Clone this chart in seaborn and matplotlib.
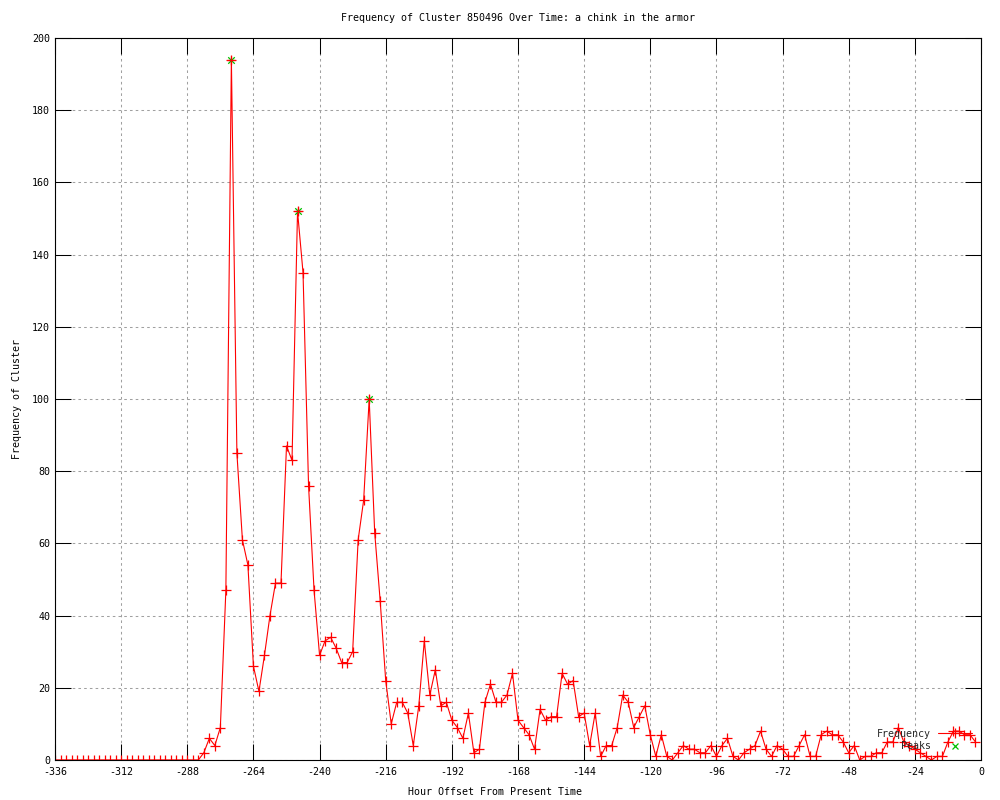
import numpy as np
import pandas as pd
import matplotlib
matplotlib.use("Agg")
import matplotlib.pyplot as plt
import seaborn as sns
from matplotlib.lines import Line2D

# ---- data ----
hours = list(range(-336, 0, 2))  # -336 ... -2
frequency = [0] * 27 + [
    2, 6, 4, 9, 47, 194, 85, 61, 54, 26, 19, 29, 40, 49, 49, 87, 83, 152, 135, 76,
    47, 29, 33, 34, 31, 27, 27, 30, 61, 72, 100, 63, 44, 22, 10, 16,
    16, 13, 4, 15, 33, 18, 25, 15, 16, 11, 9, 6, 13, 2, 3, 16, 21, 16, 16, 18,
    24, 11, 9, 7, 3, 14, 11, 12, 12, 24, 21, 22, 12, 13, 4, 13, 1, 4, 4, 9,
    18, 16, 9, 12, 15, 7, 1, 7, 1, 0, 2, 4, 3, 3, 2, 2, 4, 1, 4, 6,
    1, 0, 2, 3, 4, 8, 3, 1, 4, 3, 1, 1, 4, 7, 1, 1, 7, 8, 7, 7,
    5, 2, 4, 0, 1, 1, 2, 2, 5, 5, 9, 5, 4, 3, 2, 1, 0, 1, 1, 5,
    8, 8, 7, 7, 5,
]
peak_hours = [-272, -248, -222]
peak_values = [194, 152, 100]

x_ticks = list(range(-336, 1, 24))
y_ticks = list(range(0, 201, 20))

title = "Frequency of Cluster 850496 Over Time: a chink in the armor"
xlabel = "Hour Offset From Present Time"
ylabel = "Frequency of Cluster"

df = pd.DataFrame({"hour": hours, "freq": frequency})
pk = pd.DataFrame({"hour": peak_hours, "freq": peak_values})

# ---- style ----
sns.set_theme(style="white")
plt.rcParams["font.family"] = ["DejaVu Sans Mono"]
fs = 7.2
RED = "#ff0000"
GREEN = "#00c000"

fig = plt.figure(figsize=(10, 8), dpi=100)
ax = fig.add_axes([0.055, 0.05, 0.926, 0.9025])

sns.lineplot(data=df, x="hour", y="freq", ax=ax, color=RED, linewidth=0.8,
             marker="+", markersize=6.5, markeredgewidth=0.9, markeredgecolor=RED,
             estimator=None, sort=False, legend=False)
sns.scatterplot(data=pk, x="hour", y="freq", ax=ax, color=GREEN, marker="x",
                s=22, linewidth=0.9, zorder=5, legend=False)
sns.scatterplot(data=pk, x="hour", y="freq", ax=ax, color=RED, marker="+",
                s=40, linewidth=0.9, zorder=6, legend=False)

ax.set_xlim(-336, 0)
ax.set_ylim(0, 200)
ax.set_xticks(x_ticks)
ax.set_yticks(y_ticks)
ax.set_xticklabels([str(t) for t in x_ticks], fontsize=fs)
ax.set_yticklabels([str(t) for t in y_ticks], fontsize=fs)

ax.tick_params(axis="both", which="major", direction="in", length=11.5,
               width=0.75, color="black", top=True, right=True,
               bottom=True, left=True, labelcolor="black")
ax.tick_params(axis="x", pad=5)
ax.tick_params(axis="y", pad=3.5)

for sp in ax.spines.values():
    sp.set_visible(True)
    sp.set_color("black")
    sp.set_linewidth(0.8)

ax.grid(True, color="#a0a0a0", linestyle=(0, (2.5, 3)), linewidth=0.75)
ax.set_axisbelow(True)

ax.set_title(title, fontsize=fs, pad=12, color="black")
ax.set_xlabel(xlabel, fontsize=fs, color="black")
ax.set_ylabel(ylabel, fontsize=fs, color="black")
ax.xaxis.set_label_coords(0.475, -0.037)
ax.yaxis.set_label_coords(-0.036, 0.5)

handles = [
    Line2D([], [], color=RED, lw=0.8, marker="+", markersize=6.5, markeredgewidth=0.9),
    Line2D([], [], color=GREEN, lw=0, marker="x", markersize=4.5, markeredgewidth=0.9),
]
leg = ax.legend(handles, ["Frequency", "Peaks"], loc="lower right",
                bbox_to_anchor=(0.99, 0.012), borderaxespad=0, frameon=False,
                markerfirst=False, fontsize=fs, handlelength=3.4,
                handletextpad=0.7, labelspacing=0.25, borderpad=0)

fig.savefig("out.png", dpi=100, facecolor="white")
